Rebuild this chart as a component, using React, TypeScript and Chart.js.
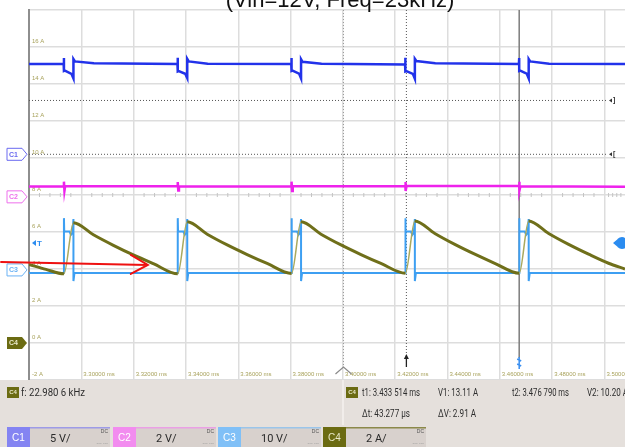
import React, { useEffect, useRef } from "react";
import { Chart, registerables } from "chart.js";

Chart.register(...registerables);

// ---------- axes (time in ms, current in A) ----------
const xMinMs = 3.28;
const xMaxMs = 3.50786;
const yMinA = -2;
const yMaxA = 18;
const xTickValues = [3.28, 3.3, 3.32, 3.34, 3.36, 3.38, 3.4, 3.42, 3.44, 3.46, 3.48, 3.5];
const xTickLabels = ["", "3.30000 ms", "3.32000 ms", "3.34000 ms", "3.36000 ms", "3.38000 ms", "3.40000 ms", "3.42000 ms", "3.44000 ms", "3.46000 ms", "3.48000 ms", "3.50000 ms"];
const yTickValues = [-2, 0, 2, 4, 6, 8, 10, 12, 14, 16, 18];
const yTickLabels = ["-2 A", "0 A", "2 A", "4 A", "6 A", "8 A", "10 A", "12 A", "14 A", "16 A", ""];

const titleText = "(Vin=12V, Freq=23kHz)";

// ---------- C1 (dark blue) ----------
const c1Times = [
  3.28,
  3.29325, 3.29336, 3.29336, 3.29374, 3.29622, 3.29699, 3.29699, 3.29756, 3.30481,
  3.33676, 3.33687, 3.33687, 3.33725, 3.33973, 3.3405, 3.3405, 3.34107, 3.34832,
  3.38027, 3.38038, 3.38038, 3.38076, 3.38324, 3.38401, 3.38401, 3.38458, 3.39183,
  3.42378, 3.42389, 3.42389, 3.42427, 3.42675, 3.42752, 3.42752, 3.42809, 3.43534,
  3.4673, 3.46741, 3.46741, 3.46779, 3.47027, 3.47104, 3.47104, 3.47161, 3.47886,
  3.50786,
];
const c1Amps = [
  15.08,
  15.1, 15.4, 14.7, 14.72, 14.55, 14.3, 15.35, 15.22, 15.12,
  15.08, 15.42, 14.68, 14.7, 14.55, 14.32, 15.36, 15.22, 15.1,
  15.08, 15.4, 14.7, 14.72, 14.56, 14.3, 15.34, 15.2, 15.1,
  15.06, 15.42, 14.68, 14.7, 14.55, 14.28, 15.36, 15.24, 15.12,
  15.08, 15.4, 14.7, 14.72, 14.56, 14.3, 15.35, 15.22, 15.1,
  15.08,
];

// ---------- C2 (magenta) ----------
const c2Times = [
  3.28,
  3.29336, 3.29336, 3.29355, 3.29382,
  3.33687, 3.33687, 3.33706, 3.33733,
  3.38038, 3.38038, 3.38057, 3.38084,
  3.42389, 3.42389, 3.42408, 3.42435,
  3.46741, 3.46741, 3.4676, 3.46787,
  3.50786,
];
const c2Amps = [
  8.46,
  8.46, 8.72, 8.22, 8.47,
  8.47, 8.7, 8.24, 8.46,
  8.46, 8.72, 8.22, 8.47,
  8.47, 8.7, 8.22, 8.48,
  8.48, 8.72, 8.24, 8.47,
  8.45,
];

// ---------- C3 (light blue) ----------
const c3Times = [
  3.28,
  3.29336, 3.29336, 3.29347, 3.29546, 3.29603, 3.2966, 3.29699, 3.29699, 3.29737,
  3.33687, 3.33687, 3.33698, 3.33897, 3.33954, 3.34011, 3.3405, 3.3405, 3.34088,
  3.38038, 3.38038, 3.38049, 3.38248, 3.38305, 3.38362, 3.38401, 3.38401, 3.38439,
  3.42389, 3.42389, 3.424, 3.42599, 3.42656, 3.42713, 3.42752, 3.42752, 3.4279,
  3.46741, 3.46741, 3.46752, 3.46951, 3.47008, 3.47065, 3.47104, 3.47104, 3.47142,
  3.50786,
];
const c3Amps = [
  3.78,
  3.78, 6.75, 6.03, 6.03, 5.85, 5.95, 6.7, 3.35, 3.78,
  3.78, 6.75, 6.03, 6.03, 5.85, 5.95, 6.7, 3.35, 3.78,
  3.78, 6.75, 6.03, 6.03, 5.85, 5.95, 6.7, 3.35, 3.78,
  3.78, 6.75, 6.03, 6.03, 5.85, 5.95, 6.7, 3.35, 3.78,
  3.78, 6.75, 6.03, 6.03, 5.85, 5.95, 6.7, 3.35, 3.78,
  3.78,
];

// ---------- C4 (olive, inductor current) ----------
const c4Times = [
  3.28, 3.28649,
  3.29336, 3.29699, 3.30462, 3.31226, 3.31989, 3.32752,
  3.33687, 3.3405, 3.34813, 3.35577, 3.3634, 3.37103,
  3.38038, 3.38401, 3.39164, 3.39928, 3.40691, 3.41454,
  3.42389, 3.42752, 3.43515, 3.44279, 3.45042, 3.45805,
  3.46741, 3.47104, 3.47867, 3.48631, 3.49394, 3.50157,
  3.50786,
];
const c4Amps = [
  4.25, 3.98,
  3.74, 6.5, 5.85, 5.28, 4.76, 4.29,
  3.74, 6.55, 5.88, 5.3, 4.78, 4.3,
  3.76, 6.55, 5.88, 5.3, 4.78, 4.3,
  3.77, 6.6, 5.92, 5.33, 4.8, 4.31,
  3.77, 6.6, 5.92, 5.33, 4.8, 4.31,
  4.0,
];

// ---------- cursors / markers ----------
const triggerTimeMs = 3.40023;
const cursorT1Ms = 3.42428;
const cursorT2Ms = 3.46741;
const cursorV1A = 13.11;
const cursorV2A = 10.2;
const triggerLevelA = 5.4;
const channelOffsetsA = [10.2, 7.9, 3.95, 0];
const channelNames = ["C1", "C2", "C3", "C4"];
const arrowTail = { x: 3.26931, y: 4.38 };
const arrowTip = { x: 3.32542, y: 4.22 };

// ---------- readouts ----------
const freqText = "f: 22.980 6 kHz";
const t1Text = "t1: 3.433 514 ms";
const v1Text = "V1: 13.11 A";
const t2Text = "t2: 3.476 790 ms";
const v2Text = "V2: 10.20 A";
const dtText = "\u0394t: 43.277 \u00b5s";
const dvText = "\u0394V: 2.91 A";
const scaleTexts = ["5 V/", "2 V/", "10 V/", "2 A/"];

const COL_C1 = "#2232ea";
const COL_C2 = "#ee22ec";
const COL_C3 = "#3d9ff2";
const COL_C4 = "#6f6f1a";
const TAB_COLS = ["#8484f2", "#f28cef", "#80c0f7", "#6b6b12"];

function pts(t: number[], v: number[]) {
  return t.map((x, i) => ({ x, y: v[i] }));
}

const drawPlugin = {
  id: "scopeDecor",
  beforeDraw(chart: any) {
    const ctx = chart.ctx;
    ctx.save();
    ctx.fillStyle = "#ffffff";
    ctx.fillRect(0, 0, chart.width, chart.height);
    ctx.restore();
  },
  beforeDatasetsDraw(chart: any) {
    const ctx = chart.ctx;
    const xs = chart.scales.x;
    const ys = chart.scales.y;
    const area = chart.chartArea;
    ctx.save();
    // centre line minor ticks
    const yc = ys.getPixelForValue(8);
    ctx.strokeStyle = "#c4c4c4";
    ctx.lineWidth = 1;
    for (let i = 0; i < xTickValues.length; i++) {
      const x0 = xs.getPixelForValue(xTickValues[i]);
      const x1 = i + 1 < xTickValues.length ? xs.getPixelForValue(xTickValues[i + 1]) : area.right;
      for (let k = 1; k < 5; k++) {
        const xx = x0 + ((x1 - x0) * k) / 5;
        if (xx > area.right) break;
        ctx.beginPath();
        ctx.moveTo(xx, yc - 2);
        ctx.lineTo(xx, yc + 2);
        ctx.stroke();
      }
    }
    // trigger position dotted
    ctx.setLineDash([1, 2]);
    ctx.strokeStyle = "#9a9a9a";
    ctx.lineWidth = 1;
    const xt = xs.getPixelForValue(triggerTimeMs);
    ctx.beginPath();
    ctx.moveTo(xt, area.top);
    ctx.lineTo(xt, area.bottom - 12);
    ctx.stroke();
    // t1 dotted
    ctx.strokeStyle = "#555555";
    const x1 = xs.getPixelForValue(cursorT1Ms);
    ctx.beginPath();
    ctx.moveTo(x1, area.top);
    ctx.lineTo(x1, area.bottom - 24);
    ctx.stroke();
    // V1/V2 dotted
    [cursorV1A, cursorV2A].forEach((v) => {
      const y = ys.getPixelForValue(v);
      ctx.beginPath();
      ctx.moveTo(area.left, y);
      ctx.lineTo(area.right - 17, y);
      ctx.stroke();
    });
    ctx.setLineDash([]);
    // t2 solid
    ctx.strokeStyle = "#7c7c7c";
    ctx.lineWidth = 1.5;
    const x2 = xs.getPixelForValue(cursorT2Ms);
    ctx.beginPath();
    ctx.moveTo(x2, area.top);
    ctx.lineTo(x2, area.bottom - 22);
    ctx.stroke();
    ctx.restore();
  },
  afterDraw(chart: any) {
    const ctx = chart.ctx;
    const xs = chart.scales.x;
    const ys = chart.scales.y;
    const area = chart.chartArea;
    const W = chart.width;
    ctx.save();

    // title (cut off at top)
    ctx.fillStyle = "#111111";
    ctx.font = "22px 'Liberation Sans', Arial, sans-serif";
    ctx.textAlign = "center";
    ctx.textBaseline = "alphabetic";
    ctx.fillText(titleText, 340, 7, 238);

    // x tick labels inside the grid
    ctx.fillStyle = "#a8a25c";
    ctx.font = "6px 'Liberation Sans', sans-serif";
    ctx.textAlign = "left";
    ctx.textBaseline = "middle";
    xTickValues.forEach((v, i) => {
      if (!xTickLabels[i]) return;
      ctx.fillText(xTickLabels[i], xs.getPixelForValue(v) + 2, area.bottom - 6);
    });

    // markers on V cursors (right)
    ctx.fillStyle = "#333333";
    ctx.font = "bold 7px 'Liberation Sans', sans-serif";
    ctx.textBaseline = "middle";
    [cursorV1A, cursorV2A].forEach((v, i) => {
      const y = ys.getPixelForValue(v);
      ctx.beginPath();
      ctx.moveTo(area.right - 16, y);
      ctx.lineTo(area.right - 13, y - 2);
      ctx.lineTo(area.right - 13, y + 2);
      ctx.closePath();
      ctx.fill();
      ctx.fillText(i === 0 ? "]" : "[", area.right - 12, y);
    });

    // trigger position triangle
    const xt = xs.getPixelForValue(triggerTimeMs);
    ctx.strokeStyle = "#8a8a8a";
    ctx.lineWidth = 1.2;
    ctx.beginPath();
    ctx.moveTo(xt - 8, area.bottom - 6);
    ctx.lineTo(xt, area.bottom - 13);
    ctx.lineTo(xt + 8, area.bottom - 6);
    ctx.stroke();

    // t1 arrow marker
    const x1 = xs.getPixelForValue(cursorT1Ms);
    ctx.strokeStyle = "#222222";
    ctx.fillStyle = "#222222";
    ctx.lineWidth = 1.3;
    ctx.beginPath();
    ctx.moveTo(x1, area.bottom - 22);
    ctx.lineTo(x1, area.bottom - 13);
    ctx.stroke();
    ctx.beginPath();
    ctx.moveTo(x1, area.bottom - 26);
    ctx.lineTo(x1 - 2.5, area.bottom - 21);
    ctx.lineTo(x1 + 2.5, area.bottom - 21);
    ctx.closePath();
    ctx.fill();

    // t2 blue marker
    const x2 = xs.getPixelForValue(cursorT2Ms);
    ctx.strokeStyle = "#3a8ff0";
    ctx.lineWidth = 1.5;
    ctx.beginPath();
    ctx.moveTo(x2, area.bottom - 23);
    ctx.lineTo(x2, area.bottom - 11);
    ctx.moveTo(x2 - 2, area.bottom - 21);
    ctx.lineTo(x2 + 2, area.bottom - 19);
    ctx.moveTo(x2 - 2, area.bottom - 16);
    ctx.lineTo(x2 + 2, area.bottom - 14);
    ctx.stroke();

    // trigger level markers
    const yT = ys.getPixelForValue(triggerLevelA);
    ctx.fillStyle = "#2b8cf0";
    ctx.beginPath();
    ctx.moveTo(area.left + 3, yT);
    ctx.lineTo(area.left + 7, yT - 3);
    ctx.lineTo(area.left + 7, yT + 3);
    ctx.closePath();
    ctx.fill();
    ctx.font = "bold 8px 'Liberation Sans', sans-serif";
    ctx.textAlign = "left";
    ctx.fillText("T", area.left + 8, yT + 0.5);
    ctx.beginPath();
    ctx.arc(W - 3, yT, 6, 0, Math.PI * 2);
    ctx.moveTo(W - 12, yT);
    ctx.lineTo(W - 6, yT - 5);
    ctx.lineTo(W - 6, yT + 5);
    ctx.closePath();
    ctx.fill();

    // channel reference tags on the left
    const tagCols = ["#6a6af0", "#ee70ec", "#6ab2f4", "#6b6b12"];
    channelOffsetsA.forEach((v, i) => {
      const y = ys.getPixelForValue(v);
      ctx.beginPath();
      ctx.moveTo(7, y - 6);
      ctx.lineTo(22, y - 6);
      ctx.lineTo(27, y);
      ctx.lineTo(22, y + 6);
      ctx.lineTo(7, y + 6);
      ctx.closePath();
      if (i === 3) {
        ctx.fillStyle = tagCols[i];
        ctx.fill();
        ctx.fillStyle = "#e9e9c8";
      } else {
        ctx.fillStyle = "#ffffff";
        ctx.fill();
        ctx.strokeStyle = tagCols[i];
        ctx.lineWidth = 1;
        ctx.stroke();
        ctx.fillStyle = tagCols[i];
      }
      ctx.font = "bold 7px 'Liberation Sans', sans-serif";
      ctx.textAlign = "left";
      ctx.textBaseline = "middle";
      ctx.fillText(channelNames[i], 9, y + 0.5);
    });

    // red annotation arrow
    const ax0 = xs.getPixelForValue(arrowTail.x);
    const ay0 = ys.getPixelForValue(arrowTail.y);
    const ax1 = xs.getPixelForValue(arrowTip.x);
    const ay1 = ys.getPixelForValue(arrowTip.y);
    ctx.strokeStyle = "#ee1111";
    ctx.lineWidth = 2;
    ctx.lineCap = "round";
    ctx.beginPath();
    ctx.moveTo(ax0, ay0);
    ctx.lineTo(ax1, ay1);
    ctx.moveTo(ax1 - 17, ay1 - 10);
    ctx.lineTo(ax1, ay1);
    ctx.lineTo(ax1 - 17, ay1 + 9);
    ctx.stroke();
    ctx.lineCap = "butt";

    // ---------- bottom panel ----------
    const top = area.bottom;
    ctx.fillStyle = "#e5e0dc";
    ctx.fillRect(0, top, W, chart.height - top);
    ctx.strokeStyle = "#f5f2ef";
    ctx.lineWidth = 1.5;
    ctx.beginPath();
    ctx.moveTo(343, top);
    ctx.lineTo(343, top + 45);
    ctx.stroke();

    const smallBox = (x: number, y: number) => {
      ctx.fillStyle = "#6b6b12";
      ctx.fillRect(x, y, 12, 11);
      ctx.fillStyle = "#e9e9c8";
      ctx.font = "bold 6px 'Liberation Sans', sans-serif";
      ctx.textAlign = "center";
      ctx.textBaseline = "middle";
      ctx.fillText("C4", x + 6, y + 5.5);
    };
    smallBox(7, top + 7);
    smallBox(346, top + 7);

    ctx.fillStyle = "#2d2d2d";
    ctx.font = "10px 'Roboto', 'Liberation Sans', sans-serif";
    ctx.textAlign = "left";
    ctx.textBaseline = "middle";
    const r1 = top + 13;
    const r2 = top + 34;
    ctx.fillText(freqText, 21, r1, 64);
    ctx.fillText(t1Text, 362, r1, 58);
    ctx.fillText(v1Text, 438, r1, 40);
    ctx.fillText(t2Text, 512, r1, 57);
    ctx.fillText(v2Text, 587, r1, 41);
    ctx.fillText(dtText, 362, r2, 48);
    ctx.fillText(dvText, 438, r2, 38);

    // channel scale tabs
    const tabTop = top + 47;
    const tabH = chart.height - tabTop;
    const tabX = [7, 113, 218, 323];
    tabX.forEach((x, i) => {
      ctx.fillStyle = TAB_COLS[i];
      ctx.fillRect(x, tabTop, 23, tabH);
      ctx.fillStyle = "#d8d1cd";
      ctx.fillRect(x + 23, tabTop, 80, tabH);
      ctx.strokeStyle = TAB_COLS[i];
      ctx.globalAlpha = 0.7;
      ctx.lineWidth = 1.5;
      ctx.beginPath();
      ctx.moveTo(x + 23, tabTop + 0.75);
      ctx.lineTo(x + 103, tabTop + 0.75);
      ctx.stroke();
      ctx.globalAlpha = 1;
      ctx.fillStyle = i === 3 ? "#e9e9c8" : "#ffffff";
      ctx.font = "10px 'Liberation Sans', sans-serif";
      ctx.textAlign = "center";
      ctx.textBaseline = "middle";
      ctx.fillText(channelNames[i], x + 11.5, tabTop + tabH / 2 + 1);
      ctx.fillStyle = "#2a2a2a";
      ctx.font = "11px 'Roboto', 'Liberation Sans', sans-serif";
      ctx.textAlign = "left";
      ctx.fillText(scaleTexts[i], x + 43, tabTop + tabH / 2 + 2);
      ctx.fillStyle = "#555555";
      ctx.font = "5px 'Liberation Sans', sans-serif";
      ctx.textAlign = "right";
      ctx.fillText("DC", x + 101, tabTop + 5);
      ctx.fillStyle = "#9a9a9a";
      ctx.fillText("--- ---", x + 101, tabTop + tabH - 3);
    });

    ctx.restore();
  },
};

export default function App() {
  const ref = useRef<HTMLCanvasElement | null>(null);
  useEffect(() => {
    const canvas = ref.current;
    if (!canvas) return;
    const chart = new Chart(canvas, {
      type: "line",
      data: {
        datasets: [
          {
            label: "C4",
            data: pts(c4Times, c4Amps),
            borderColor: COL_C4,
            borderWidth: 3,
            pointRadius: 0,
            cubicInterpolationMode: "monotone",
            order: 0,
            segment: {
              borderColor: (c: any) => (c.p1.parsed.y > c.p0.parsed.y + 1 ? "#a9a95e" : undefined),
              borderWidth: (c: any) => (c.p1.parsed.y > c.p0.parsed.y + 1 ? 1.5 : undefined),
            },
          },
          {
            label: "C3",
            data: pts(c3Times, c3Amps),
            borderColor: COL_C3,
            borderWidth: 2,
            pointRadius: 0,
            tension: 0,
            order: 1,
          },
          {
            label: "C1",
            data: pts(c1Times, c1Amps),
            borderColor: COL_C1,
            borderWidth: 2.5,
            pointRadius: 0,
            tension: 0,
            order: 2,
          },
          {
            label: "C2",
            data: pts(c2Times, c2Amps),
            borderColor: COL_C2,
            borderWidth: 2.5,
            pointRadius: 0,
            tension: 0,
            order: 3,
          },
        ],
      },
      options: {
        responsive: false,
        animation: false,
        devicePixelRatio: 1,
        layout: { padding: { left: 23, top: 10, right: 0, bottom: 67 } },
        plugins: {
          legend: { display: false },
          tooltip: { enabled: false },
          title: { display: false },
        },
        scales: {
          x: {
            type: "linear",
            min: xMinMs,
            max: xMaxMs,
            afterBuildTicks: (scale: any) => {
              scale.ticks = xTickValues.map((v) => ({ value: v }));
            },
            ticks: { display: false },
            grid: { color: "#dddddd", lineWidth: 1.5, drawTicks: false },
            border: { display: false },
          },
          y: {
            type: "linear",
            min: yMinA,
            max: yMaxA,
            afterBuildTicks: (scale: any) => {
              scale.ticks = yTickValues.map((v) => ({ value: v }));
            },
            ticks: {
              mirror: true,
              padding: 3,
              labelOffset: -6,
              color: "#a8a25c",
              font: { family: "'Liberation Sans', sans-serif", size: 6 },
              callback: (_v: any, i: number) => yTickLabels[i],
            },
            grid: { color: "#dddddd", lineWidth: 1.5, drawTicks: false },
            border: { display: true, color: "#8e8e8e", width: 2 },
          },
        },
      },
      plugins: [drawPlugin],
    } as any);
    return () => chart.destroy();
  }, []);
  return (
    <canvas
      ref={ref}
      width={625}
      height={447}
      style={{ position: "absolute", left: 0, top: 0, width: 625, height: 447 }}
    />
  );
}
